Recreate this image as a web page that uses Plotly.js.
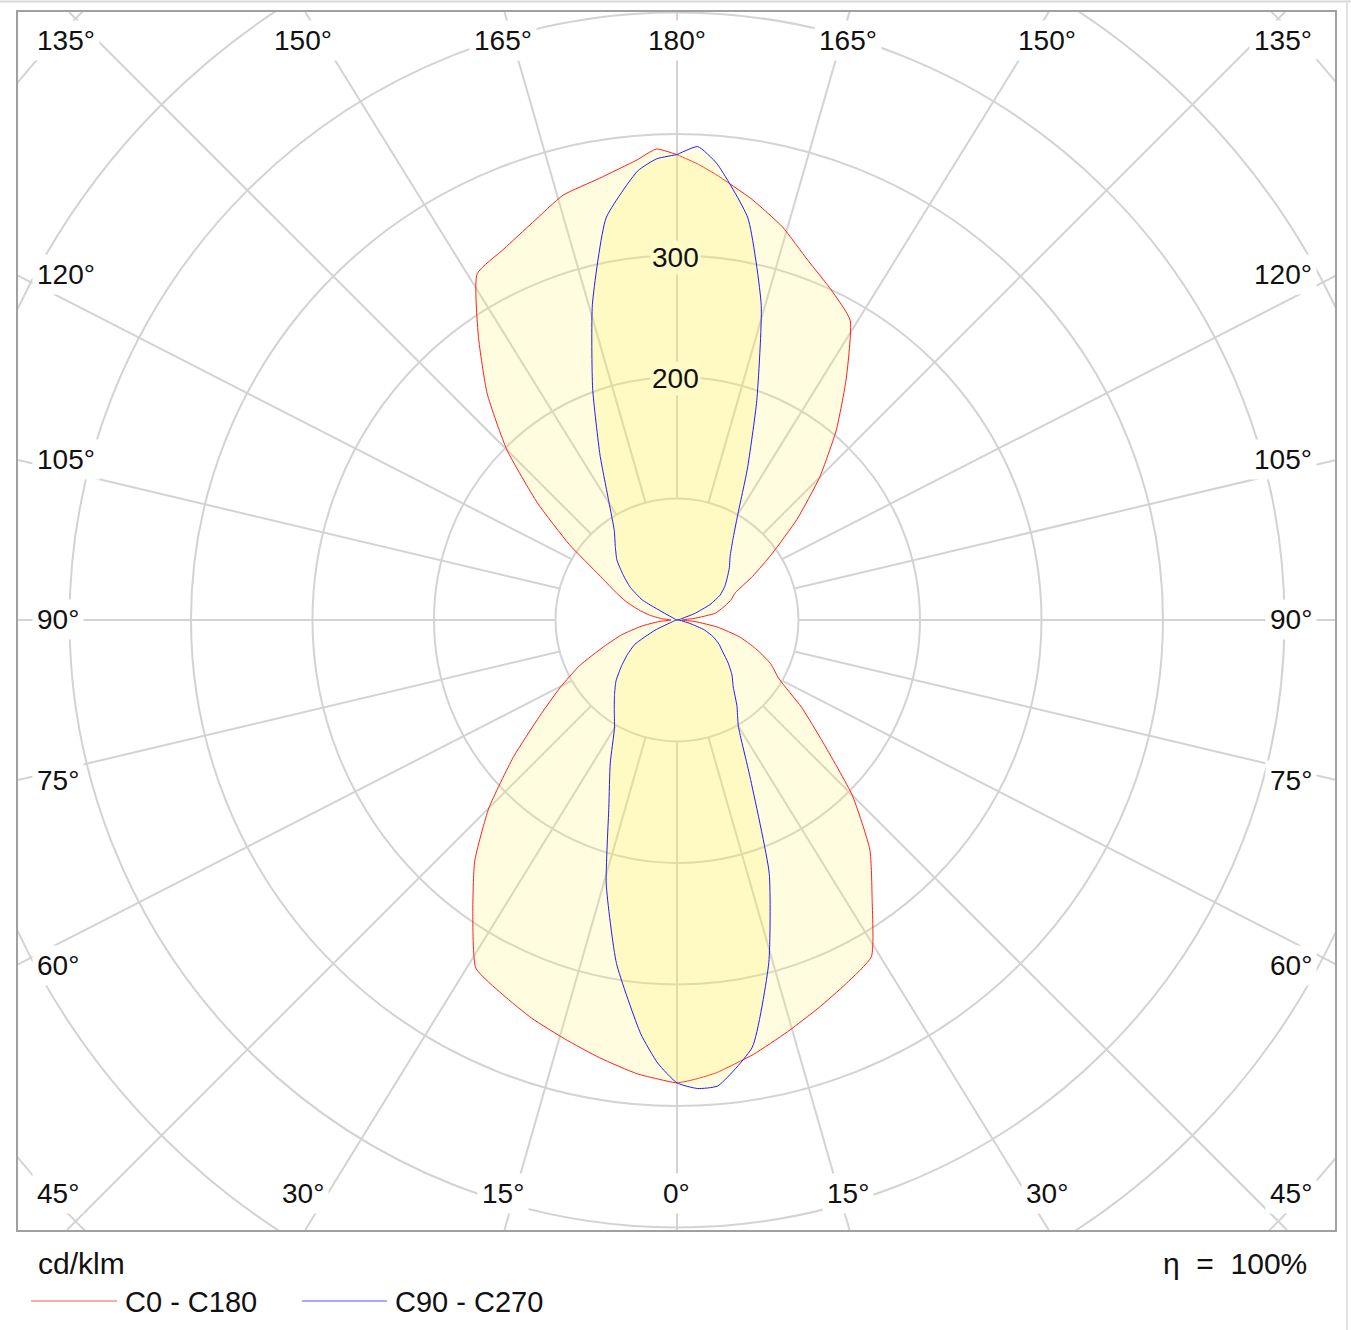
<!DOCTYPE html>
<html>
<head>
<meta charset="utf-8">
<script src="https://cdn.plot.ly/plotly-3.0.1.min.js"></script>
<style>
  html, body { margin: 0; padding: 0; background: #fff; }
  #chart { width: 1351px; height: 1330px; }
</style>
</head>
<body>
<div id="chart"></div>
<script>
// Light distribution curve (cd/klm), polar diagram drawn on a cartesian frame

// gamma angle in degrees, 0 = straight down, 180 = straight up
var gamma = [0, 2.5, 5, 10, 15, 20, 25, 30, 35, 40, 45, 50, 55, 60, 65, 70, 75, 80, 85, 90,
             95, 100, 105, 110, 115, 120, 125, 130, 135, 140, 145, 150, 155, 160, 165, 170, 175, 177.5, 180];

// C0 - C180 plane (C0 drawn on the right, C180 on the left)
var c0   = [381, 378, 374, 363, 351, 340, 330, 320, 280, 247, 204, 157, 125, 97, 85, 69, 53, 34, 15, 4,
            14, 32, 39, 47, 53, 72, 96, 129, 166, 204, 243, 285, 300, 315, 335, 352, 368, 376, 383];
var c180 = [381, 378, 375, 366, 357, 349, 340, 331, 293, 259, 219, 176, 138, 111, 88, 64, 47, 30, 15, 5,
            13, 23, 33, 45, 57, 74, 108, 150, 198, 243, 285, 329, 337, 348, 362, 369, 380, 388, 383];

// C90 - C270 plane (C90 on the right, C270 on the left)
var c90  = [381, 386, 385, 357, 292, 222, 142, 101, 86, 72, 64, 55, 46, 40, 33, 24, 11, 4, 1, 0,
            0, 1, 3, 15, 30, 41, 48, 54, 61, 68, 80, 100, 137, 192, 268, 336, 377, 390, 383];
var c270 = [381, 365, 342, 287, 225, 164, 130, 103, 90, 80, 71, 60, 50, 40, 20, 3, 1, 0, 0, 0,
            0, 0, 0, 0, 2, 33, 47, 58, 70, 79, 90, 112, 150, 203, 269, 336, 371, 380, 383];

var seriesNames = ['C0 - C180', 'C90 - C270'];
var ringValues = [100, 200, 300, 400, 500, 600, 700];
var ringLabels = [200, 300];
var spokeAngles = [0, 15, 30, 45, 60, 75, 90, 105, 120, 135, 150, 165, 180];

// frame (axis ranges in cd/klm)
var X_MIN = -542.4, X_MAX = 541.6, Y_MIN = -502.1, Y_MAX = 500.4;
var FONT = 'Arial, "Liberation Sans", sans-serif';

function toXY(r, g, side) {
    var a = g * Math.PI / 180;
    return [side * r * Math.sin(a), -r * Math.cos(a)];
}

// closed outline: left half 0..180 then right half 180..0
function planeCurve(left, right) {
    var xs = [], ys = [], p, i;
    for (i = 0; i < gamma.length; i++) {
        p = toXY(left[i], gamma[i], -1);
        xs.push(p[0]); ys.push(p[1]);
    }
    for (i = gamma.length - 1; i >= 0; i--) {
        p = toXY(right[i], gamma[i], 1);
        xs.push(p[0]); ys.push(p[1]);
    }
    return {x: xs, y: ys};
}

var redCurve = planeCurve(c180, c0);
var blueCurve = planeCurve(c270, c90);

var data = [
    {
        x: redCurve.x, y: redCurve.y, type: 'scatter', mode: 'lines',
        name: seriesNames[0], fill: 'toself',
        fillcolor: 'rgba(255,240,80,0.18)',
        line: {color: 'rgb(255,30,30)', width: 1, shape: 'spline', smoothing: 0.5},
        hoverinfo: 'skip'
    },
    {
        x: blueCurve.x, y: blueCurve.y, type: 'scatter', mode: 'lines',
        name: seriesNames[1], fill: 'toself',
        fillcolor: 'rgba(255,240,80,0.18)',
        line: {color: 'rgb(30,30,255)', width: 1, shape: 'spline', smoothing: 0.5},
        hoverinfo: 'skip'
    }
];

// where each spoke meets the frame (the labels sit there too)
function spokeEnd(a, side) {
    var ends = {
        0: [0, Y_MIN], 15: [142, Y_MIN], 30: [306, Y_MIN], 45: [-Y_MIN, Y_MIN],
        60: [X_MAX + 2, -284], 75: [X_MAX + 2, -132], 90: [X_MAX + 2, 0],
        105: [X_MAX + 2, 132], 120: [X_MAX + 2, 284],
        135: [Y_MAX, Y_MAX], 150: [306, Y_MAX], 165: [142, Y_MAX], 180: [0, Y_MAX]
    };
    var e = ends[a];
    return [side * e[0], e[1]];
}

var GRID = 'rgb(211,211,211)';
var shapes = [];

// rings
ringValues.forEach(function (r) {
    shapes.push({
        type: 'circle', xref: 'x', yref: 'y', layer: 'below',
        x0: -r, y0: -r, x1: r, y1: r,
        line: {color: GRID, width: 2}
    });
});

// spokes, starting at the first ring
spokeAngles.forEach(function (a) {
    var sides = (a === 0 || a === 180) ? [1] : [-1, 1];
    sides.forEach(function (s) {
        var p0 = toXY(ringValues[0], a, s);
        var p1 = spokeEnd(a, s);
        shapes.push({
            type: 'line', xref: 'x', yref: 'y', layer: 'below',
            x0: p0[0], y0: p0[1], x1: p1[0], y1: p1[1],
            line: {color: GRID, width: 2}
        });
    });
});

// pixel helpers for things outside the frame
function px(xp) { return (xp - 18) / 1317; }
function py(yp) { return (1230 - yp) / 1218; }

// legend samples
shapes.push({type: 'line', xref: 'paper', yref: 'paper', x0: px(31), x1: px(117), y0: py(1301), y1: py(1301),
             line: {color: 'rgb(255,140,140)', width: 1.5}});
shapes.push({type: 'line', xref: 'paper', yref: 'paper', x0: px(302), x1: px(387), y0: py(1301), y1: py(1301),
             line: {color: 'rgb(140,140,255)', width: 1.5}});

// page edges seen in the screenshot
shapes.push({type: 'line', xref: 'paper', yref: 'paper', x0: px(0), x1: px(1351), y0: py(1.5), y1: py(1.5),
             line: {color: 'rgb(215,215,215)', width: 2}});
shapes.push({type: 'line', xref: 'paper', yref: 'paper', x0: px(1347), x1: px(1347), y0: py(0), y1: py(1330),
             line: {color: 'rgb(225,225,225)', width: 2}});

var annotations = [];

function angleLabel(text, x, y, anchor) {
    annotations.push({
        text: text, x: x, y: y, xref: 'x', yref: 'y',
        xanchor: anchor, yanchor: 'middle', showarrow: false,
        bgcolor: 'white', borderpad: 4,
        font: {family: FONT, size: 28, color: '#111'}
    });
}

var TOP_Y = 477, BOT_Y = -472, LEFT_X = -530.5, RIGHT_X = 526.4;
spokeAngles.forEach(function (a) {
    var t = a + '°';
    if (a === 0 || a === 180) {
        angleLabel(t, 0, a === 0 ? BOT_Y : TOP_Y, 'center');
    } else if (a === 15 || a === 30 || a === 150 || a === 165) {
        var e = spokeEnd(a, 1);
        var yy = a < 90 ? BOT_Y : TOP_Y;
        angleLabel(t, -e[0] - 1.5, yy, 'center');
        angleLabel(t, e[0] - 1.5, yy, 'center');
    } else {
        var y;
        if (a === 45) y = BOT_Y;
        else if (a === 135) y = TOP_Y;
        else y = spokeEnd(a, 1)[1];
        angleLabel(t, LEFT_X, y, 'left');
        angleLabel(t, RIGHT_X, y, 'right');
    }
});

ringLabels.forEach(function (v) {
    annotations.push({
        text: String(v), x: -1.5, y: v - 1.5, xref: 'x', yref: 'y',
        xanchor: 'center', yanchor: 'middle', showarrow: false,
        bgcolor: 'rgb(255,250,198)', borderpad: 1,
        font: {family: FONT, size: 28, color: '#111'}
    });
});

annotations.push({text: 'cd/klm', xref: 'paper', yref: 'paper', x: px(36), y: py(1263),
                  xanchor: 'left', yanchor: 'middle', showarrow: false,
                  font: {family: FONT, size: 30, color: '#111'}});
annotations.push({text: 'η\u00a0 =\u00a0 100%', xref: 'paper', yref: 'paper', x: px(1309), y: py(1263),
                  xanchor: 'right', yanchor: 'middle', showarrow: false,
                  font: {family: FONT, size: 30, color: '#111'}});
annotations.push({text: seriesNames[0], xref: 'paper', yref: 'paper', x: px(123), y: py(1302),
                  xanchor: 'left', yanchor: 'middle', showarrow: false,
                  font: {family: FONT, size: 29, color: '#111'}});
annotations.push({text: seriesNames[1], xref: 'paper', yref: 'paper', x: px(393), y: py(1302),
                  xanchor: 'left', yanchor: 'middle', showarrow: false,
                  font: {family: FONT, size: 29, color: '#111'}});

var axisBase = {
    showgrid: false, zeroline: false, showticklabels: false, ticks: '',
    showline: true, mirror: true, linecolor: 'rgb(160,160,160)', linewidth: 2,
    fixedrange: true
};

var layout = {
    width: 1351, height: 1330,
    margin: {l: 18, r: 16, t: 12, b: 100},
    paper_bgcolor: 'white', plot_bgcolor: 'white',
    showlegend: false,
    xaxis: Object.assign({range: [X_MIN, X_MAX]}, axisBase),
    yaxis: Object.assign({range: [Y_MIN, Y_MAX]}, axisBase),
    shapes: shapes,
    annotations: annotations
};

Plotly.newPlot('chart', data, layout, {staticPlot: true, displayModeBar: false});
</script>
</body>
</html>
